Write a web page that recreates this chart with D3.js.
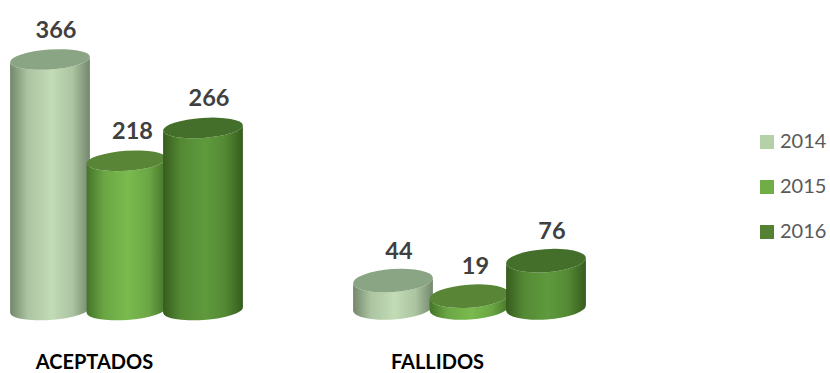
<!DOCTYPE html>
<html>
<meta charset="utf-8">
<script src="https://d3js.org/d3.v7.min.js"></script>
<style>
    html, body { margin: 0; padding: 0; background: white; overflow: hidden; }
    text { font-family: Lato, "Open Sans", sans-serif; }
</style>
<body>
<div id="my_dataviz"></div>
<script>

    // values
    const categories = ["ACEPTADOS", "FALLIDOS"];
    const years = ["2014", "2015", "2016"];
    const values2014 = [366, 44];
    const values2015 = [218, 19];
    const values2016 = [266, 76];
    const seriesValues = [values2014, values2015, values2016];

    const legendColors = ["#b5d1a8", "#70ad47", "#548235"];
    const topColors = ["#8aa583", "#588536", "#446f2a"];
    const edgeColors = ["#73886c", "#457429", "#365c1e"];
    const midColors = ["#c2dcb6", "#7aba4e", "#5f9a3d"];

    const width = 830, height = 373;
    const rx = 40, tilt = -4;

    const svg = d3.select("#my_dataviz")
      .append("svg")
        .attr("width", width)
        .attr("height", height)
        .style("display", "block");

    // group positions, bars overlap a little
    const x0 = d3.scaleBand().domain(categories).range([-45, 641]);
    const x1 = d3.scalePoint().domain(years).range([-76.5, 76.5]);

    // the 3D view squashes the right group a bit, so each group has its own scale
    const yByGroup = {
      "ACEPTADOS": d3.scaleLinear().domain([0, 366]).range([310, 59.5]),
      "FALLIDOS": d3.scaleLinear().domain([0, 366]).range([308, 80])
    };
    const ryByGroup = {"ACEPTADOS": 10, "FALLIDOS": 11.5};

    // horizontal gradients, dark at the edges and light in the middle
    const defs = svg.append("defs");
    years.forEach((yr, i) => {
      const mix = d3.interpolateRgb(edgeColors[i], midColors[i]);
      const g = defs.append("linearGradient").attr("id", "grad" + yr);
      g.append("stop").attr("offset", "0%").attr("stop-color", edgeColors[i]);
      g.append("stop").attr("offset", "22%").attr("stop-color", mix(0.72));
      g.append("stop").attr("offset", "52%").attr("stop-color", midColors[i]);
      g.append("stop").attr("offset", "78%").attr("stop-color", mix(0.72));
      g.append("stop").attr("offset", "100%").attr("stop-color", edgeColors[i]);
    });

    const rad = tilt * Math.PI / 180;
    const dx = rx * Math.cos(rad), dy = rx * Math.sin(rad);

    function body(cx, yTop, yBase, ry) {
      return `M${cx - dx},${yTop - dy} L${cx - dx},${yBase - dy}` +
        ` A${rx},${ry} ${tilt} 0 0 ${cx + dx},${yBase + dy}` +
        ` L${cx + dx},${yTop + dy}` +
        ` A${rx},${ry} ${tilt} 0 1 ${cx - dx},${yTop - dy} Z`;
    }

    // draw each year across both groups, later years sit on top
    years.forEach((yr, i) => {
      const rows = categories.map((c, j) => ({c: c, v: seriesValues[i][j]}));
      const cx = d => x0(d.c) + x0.bandwidth() / 2 + x1(yr);

      const g = svg.append("g").attr("class", "series");
      g.selectAll("path.body")
        .data(rows)
        .join("path")
        .attr("class", "body")
        .attr("d", d => body(cx(d), yByGroup[d.c](d.v), yByGroup[d.c](0), ryByGroup[d.c]))
        .attr("fill", `url(#grad${yr})`);
      g.selectAll("ellipse")
        .data(rows)
        .join("ellipse")
        .attr("rx", rx)
        .attr("ry", d => ryByGroup[d.c])
        .attr("transform", d => `translate(${cx(d)},${yByGroup[d.c](d.v)})rotate(${tilt})`)
        .attr("fill", topColors[i]);
    });

    // value labels go last so no bar covers them
    years.forEach((yr, i) => {
      const rows = categories.map((c, j) => ({c: c, v: seriesValues[i][j]}));
      svg.append("g").selectAll("text")
        .data(rows)
        .join("text")
        .attr("x", d => x0(d.c) + x0.bandwidth() / 2 + x1(yr) + 6)
        .attr("y", d => yByGroup[d.c](d.v) - 22)
        .attr("text-anchor", "middle")
        .attr("font-size", 23.5)
        .attr("font-weight", 700)
        .attr("fill", "#404040")
        .text(d => d.v);
    });

    // category labels
    svg.append("g").selectAll("text")
      .data(categories)
      .join("text")
      .attr("x", d => x0(d) + x0.bandwidth() / 2 - 32)
      .attr("y", 369)
      .attr("text-anchor", "middle")
      .attr("font-size", 20)
      .attr("font-weight", 700)
      .attr("fill", "#000")
      .text(d => d);

    // legend
    const legend = svg.append("g").selectAll("g")
      .data(years)
      .join("g")
      .attr("transform", (d, i) => `translate(760,${135 + i * 45})`);
    legend.append("rect")
      .attr("width", 14)
      .attr("height", 14)
      .attr("fill", (d, i) => legendColors[i]);
    legend.append("text")
      .attr("x", 20)
      .attr("y", 13)
      .attr("font-size", 20)
      .attr("fill", "#595959")
      .text(d => d);

</script>
</body>
</html>
